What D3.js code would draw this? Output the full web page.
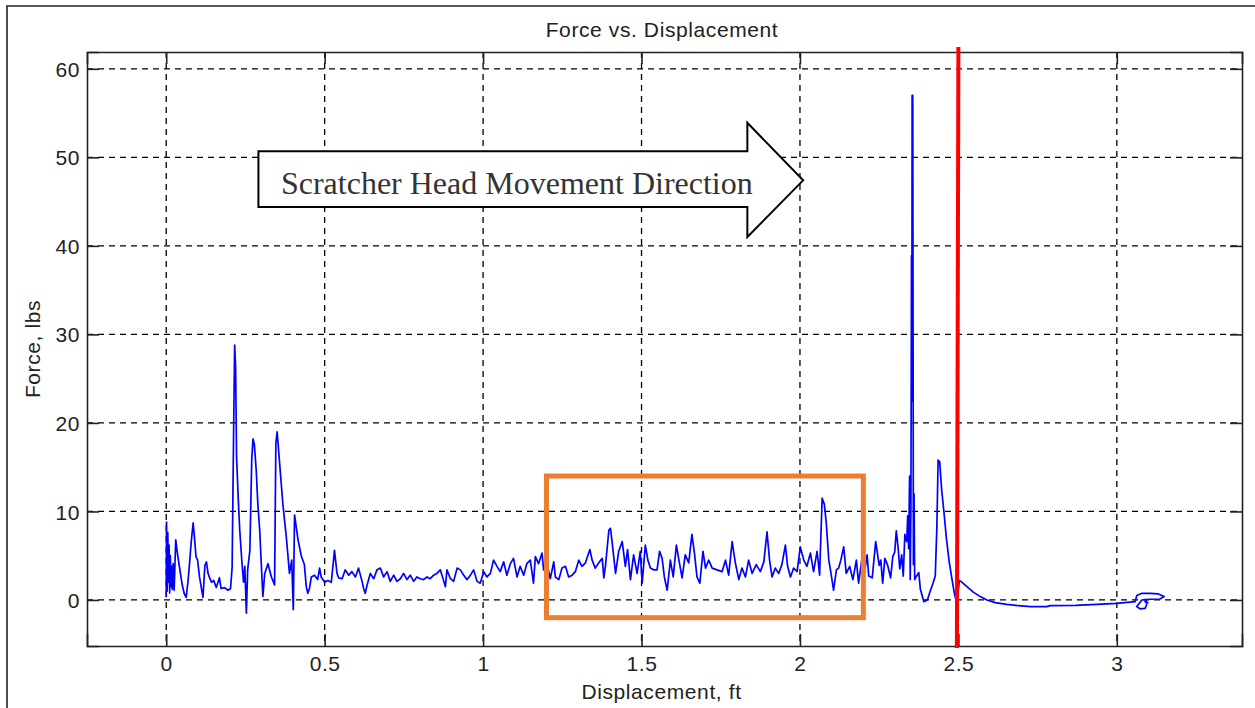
<!DOCTYPE html>
<html>
<head>
<meta charset="utf-8">
<script src="https://cdn.jsdelivr.net/npm/d3@7"></script>
<style>
  html, body { margin: 0; padding: 0; background: #fff; }
  svg { display: block; }
  .lbl { font-family: "Liberation Sans", Arial, sans-serif; font-size: 21px; fill: #222; letter-spacing: 0.6px; }
</style>
</head>
<body>
<svg id="chart" width="1255" height="708"></svg>
<script>
// ---------- data ----------
const xTicks = [0, 0.5, 1, 1.5, 2, 2.5, 3];
const xTickLabels = ["0", "0.5", "1", "1.5", "2", "2.5", "3"];
const yTicks = [0, 10, 20, 30, 40, 50, 60];
const yTickLabels = ["0", "10", "20", "30", "40", "50", "60"];

// [displacement ft, force lbs]
const startPeaks = [
  [0.000,0.3],[0.001,8.8],[0.003,1.0],[0.005,7.6],[0.007,2.0],[0.009,6.2],[0.011,0.8],[0.013,5.0],
  [0.015,1.5],[0.017,3.8],[0.019,1.2],[0.022,4.1],[0.025,1.1],[0.030,6.8],[0.036,5.1],[0.044,3.2],
  [0.050,1.8],[0.057,0.7],[0.063,0.3],[0.069,2.2],[0.074,4.3],[0.079,6.6],[0.085,8.7],[0.089,7.1],
  [0.094,4.9],[0.099,4.5],[0.105,2.6],[0.116,0.3],[0.122,3.9],[0.127,4.3],[0.132,3.0],[0.138,2.4],
  [0.143,2.0],[0.150,2.2],[0.158,1.4],[0.168,2.5],[0.173,1.3],[0.184,1.4],[0.195,1.1],[0.203,1.3],
  [0.208,3.7],[0.213,20.0],[0.216,28.8],[0.219,26.3],[0.222,16.2],[0.227,11.7],[0.232,7.9],[0.239,4.2],
  [0.244,2.0],[0.248,3.8],[0.253,-1.5],[0.257,3.4],[0.264,5.6],[0.270,16.0],[0.274,18.2],[0.278,17.6],
  [0.284,14.7],[0.289,10.9],[0.295,7.9],[0.300,4.1],[0.305,0.4],[0.311,3.0],[0.321,4.1],[0.332,2.6],
  [0.342,1.7],[0.346,17.7],[0.350,19.0],[0.358,15.4],[0.368,10.9],[0.379,7.1],[0.389,3.0],[0.396,4.5],
  [0.401,-1.1],[0.405,9.6],[0.409,8.6],[0.416,6.8],[0.426,5.0],[0.436,4.0],[0.442,1.5],[0.447,0.75],
  [0.452,1.3],[0.458,2.6],[0.468,2.8],[0.478,2.3],[0.484,3.6],[0.489,2.6],[0.500,2.0],[0.510,2.2],
  [0.521,2.0]
];

const steadyRun = [
  [0.531,5.6],[0.539,3.0],[0.544,2.5],[0.555,2.4],[0.565,3.4],[0.576,2.8],[0.586,3.2],[0.597,2.6],
  [0.607,3.6],[0.618,2.1],[0.623,1.3],[0.628,0.75],[0.634,1.7],[0.644,3.0],[0.655,2.4],[0.665,3.4],
  [0.676,3.6],[0.686,2.6],[0.697,3.2],[0.707,2.1],[0.718,2.8],[0.728,2.1],[0.739,2.4],[0.749,3.0],
  [0.760,2.3],[0.770,2.8],[0.781,2.1],[0.791,2.6],[0.802,2.4],[0.812,2.3],[0.823,2.6],[0.833,2.4],
  [0.844,2.8],[0.854,3.0],[0.865,3.4],[0.876,2.1],[0.881,1.5],[0.886,3.4],[0.897,2.4],[0.907,2.1],
  [0.918,3.6],[0.928,3.4],[0.939,2.8],[0.949,2.3],[0.960,2.8],[0.970,3.4],[0.981,2.1],[0.991,1.9],
  [1.002,3.2],[1.012,2.6],[1.023,3.0],[1.033,4.5],[1.044,3.8],[1.054,3.2],[1.065,4.3],[1.075,2.8],
  [1.086,4.1],[1.096,4.7],[1.107,2.6],[1.117,3.8],[1.128,2.8],[1.138,4.1],[1.149,4.5],[1.159,1.9],
  [1.165,4.9],[1.175,4.1],[1.186,5.3],[1.191,3.4],[1.202,4.1],[1.212,2.4],[1.223,4.3],[1.228,2.6],
  [1.239,2.3],[1.249,3.6],[1.260,3.8],[1.270,2.6],[1.281,2.8],[1.291,3.2],[1.302,4.5],[1.312,3.8],
  [1.323,4.2],[1.337,5.7],[1.344,4.5],[1.354,3.6],[1.365,4.2],[1.376,4.7],[1.381,2.5],[1.386,3.8],
  [1.397,7.9],[1.402,8.1],[1.407,6.6],[1.418,3.0],[1.428,5.5],[1.439,6.6],[1.449,3.8],[1.456,5.7],
  [1.465,2.3],[1.475,5.1],[1.486,3.0],[1.496,5.5],[1.502,1.9],[1.512,6.2],[1.520,4.5],[1.528,3.6],
  [1.539,3.4],[1.549,3.4],[1.557,5.5],[1.565,4.7],[1.572,2.6],[1.581,1.1],[1.591,4.5],[1.600,2.6],
  [1.610,6.2],[1.617,4.7],[1.628,2.5],[1.638,5.1],[1.649,4.2],[1.659,7.4],[1.667,5.3],[1.675,2.6],
  [1.684,1.9],[1.694,5.5],[1.702,3.6],[1.712,4.5],[1.723,3.6],[1.738,3.4],[1.754,3.2],[1.765,4.5],
  [1.775,2.8],[1.786,6.6],[1.796,4.2],[1.807,2.3],[1.817,3.6],[1.828,2.6],[1.838,4.5],[1.849,3.0],
  [1.862,4.0],[1.875,3.2],[1.886,4.3],[1.896,7.7],[1.904,4.5],[1.912,2.6],[1.922,3.6],[1.933,3.0],
  [1.943,4.0],[1.954,6.2],[1.961,3.8],[1.970,2.6],[1.980,3.6],[1.991,3.2],[2.001,6.0],[2.012,4.5],
  [2.022,3.8],[2.033,5.3],[2.043,3.2],[2.054,5.5],[2.062,2.8],[2.070,11.5],[2.077,10.8],[2.083,8.7],
  [2.091,4.5],[2.098,3.0],[2.106,1.1],[2.115,3.4],[2.122,3.6],[2.129,4.5],[2.138,6.0],[2.146,3.0],
  [2.157,3.8],[2.167,2.3],[2.178,4.5],[2.185,1.9],[2.195,4.5],[2.203,3.0]
];

const impactZone = [
  [2.212,5.1],[2.217,2.7],[2.228,2.5],[2.239,6.6],[2.250,3.9],[2.255,4.5],[2.261,1.9],[2.268,4.7],
  [2.277,3.9],[2.286,2.5],[2.293,4.9],[2.299,5.4],[2.304,7.8],[2.310,5.8],[2.315,3.5],[2.321,5.1],
  [2.326,2.7],[2.331,7.4],[2.337,6.6],[2.340,9.5],[2.343,5.8],[2.346,14.0],[2.348,2.3],[2.350,10.1],
  [2.351,22.2],[2.352,38.9],[2.353,22.5],[2.354,57.0],[2.356,57.0],[2.357,30.0],[2.358,4.0],[2.360,12.0],
  [2.362,2.3],[2.366,2.6],[2.375,3.1],[2.380,1.2],[2.391,-0.2],[2.402,0.0],[2.413,1.2],[2.419,1.8],
  [2.427,2.7],[2.432,8.2],[2.436,15.8],[2.441,15.6],[2.447,12.5],[2.455,9.7],[2.462,7.0],[2.471,4.3],
  [2.480,2.3],[2.487,0.8],[2.495,-0.4]
];

const tailRelax = [
  [2.503,2.2],[2.508,2.1],[2.527,1.5],[2.548,0.86],[2.569,0.38],[2.590,0.0],[2.616,-0.3],[2.653,-0.49],
  [2.690,-0.65],[2.727,-0.75],[2.779,-0.75],[2.790,-0.64],[2.870,-0.62],[2.937,-0.49],[3.000,-0.38],
  [3.058,-0.19],[3.063,0.5],[3.079,0.75],[3.105,0.75],[3.131,0.68],[3.149,0.38],[3.136,0.11],
  [3.105,0.08],[3.089,0.05],[3.079,0.0],[3.063,-0.75],[3.073,-1.0],[3.089,-0.94],[3.094,-0.56],
  [3.092,0.0],[3.089,-0.2],[3.100,-0.3]
];

const forceTrace = startPeaks.concat(steadyRun, impactZone, tailRelax);

// ---------- layout ----------
const svg = d3.select("#chart");
const plot = { left: 87, right: 1242, top: 52, bottom: 646 };

const x = d3.scaleLinear().domain([-0.25, 3.395]).range([plot.left, plot.right]);
const y = d3.scaleLinear().domain([-5.2, 61.9]).range([plot.bottom, plot.top]);

// figure frame
svg.append("path")
  .attr("d", "M7,708 V6 H1255")
  .attr("fill", "none").attr("stroke", "#222").attr("stroke-width", 1.6);

// title
svg.append("text").attr("class", "lbl")
  .attr("x", 662).attr("y", 37).attr("text-anchor", "middle")
  .text("Force vs. Displacement");

// dashed grid
const grid = svg.append("g")
  .attr("stroke", "#000").attr("stroke-width", 1.3).attr("stroke-dasharray", "6,5");
grid.selectAll("line.gx").data(xTicks).join("line")
  .attr("x1", d => x(d)).attr("x2", d => x(d))
  .attr("y1", plot.top).attr("y2", plot.bottom);
grid.selectAll("line.gy").data(yTicks).join("line")
  .attr("y1", d => y(d)).attr("y2", d => y(d))
  .attr("x1", plot.left).attr("x2", plot.right);

// force trace
svg.append("path")
  .datum(forceTrace)
  .attr("fill", "none")
  .attr("stroke", "#0000ff")
  .attr("stroke-width", 1.7)
  .attr("stroke-linejoin", "round")
  .attr("d", d3.line().x(d => x(d[0])).y(d => y(d[1])));

// axes (inward ticks on all four sides)
const tick = 12;
const axB = svg.append("g").attr("transform", `translate(0,${plot.bottom})`)
  .call(d3.axisBottom(x).tickValues(xTicks).tickSize(-tick).tickPadding(10)
    .tickFormat((d, i) => xTickLabels[i]));
const axT = svg.append("g").attr("transform", `translate(0,${plot.top})`)
  .call(d3.axisTop(x).tickValues(xTicks).tickSize(-tick).tickFormat(""));
const axL = svg.append("g").attr("transform", `translate(${plot.left},0)`)
  .call(d3.axisLeft(y).tickValues(yTicks).tickSize(-tick).tickPadding(7)
    .tickFormat((d, i) => yTickLabels[i]));
const axR = svg.append("g").attr("transform", `translate(${plot.right},0)`)
  .call(d3.axisRight(y).tickValues(yTicks).tickSize(-tick).tickFormat(""));

[axB, axT, axL, axR].forEach(g => {
  g.select(".domain").attr("stroke", "#222").attr("stroke-width", 1.6);
  g.selectAll(".tick line").attr("stroke", "#222").attr("stroke-width", 1.6);
  g.selectAll(".tick text").attr("class", "lbl").attr("fill", "#222");
});
axL.selectAll(".tick text").attr("dy", "0.36em");

// axis titles
svg.append("text").attr("class", "lbl")
  .attr("x", (plot.left + plot.right) / 2 - 3).attr("y", 699)
  .attr("text-anchor", "middle")
  .text("Displacement, ft");
svg.append("text").attr("class", "lbl")
  .attr("transform", `translate(40,${(plot.top + plot.bottom) / 2}) rotate(-90)`)
  .attr("text-anchor", "middle")
  .text("Force, lbs");

// cutoff marker at 2.5 ft
const cutoffDisplacement = 2.5;
svg.append("line")
  .attr("x1", x(cutoffDisplacement)).attr("x2", x(cutoffDisplacement) - 1.5)
  .attr("y1", y(61.9) - 5).attr("y2", y(-5.2) + 2)
  .attr("stroke", "#ff0000").attr("stroke-width", 4);

// highlighted steady-scratch window
const windowX = [1.2, 2.2], windowY = [-2, 14];
svg.append("rect")
  .attr("x", x(windowX[0])).attr("y", y(windowY[1]))
  .attr("width", x(windowX[1]) - x(windowX[0]))
  .attr("height", y(windowY[0]) - y(windowY[1]))
  .attr("fill", "none").attr("stroke", "#ed7d31").attr("stroke-width", 5);

// block arrow showing travel direction
const arrowPts = [
  [0.291, 50.7], [1.834, 50.7], [1.834, 53.9], [2.010, 47.4],
  [1.834, 41.0], [1.834, 44.4], [0.291, 44.4]
];
svg.append("polygon")
  .attr("points", arrowPts.map(p => [x(p[0]), y(p[1])].join(",")).join(" "))
  .attr("fill", "#fff").attr("stroke", "#000").attr("stroke-width", 2)
  .attr("stroke-linejoin", "miter");
svg.append("text")
  .attr("x", x(0.362)).attr("y", y(45.9))
  .attr("font-family", "'Liberation Serif', 'Times New Roman', serif")
  .attr("font-size", 32).attr("fill", "#333")
  .text("Scratcher Head Movement Direction");
</script>
</body>
</html>
